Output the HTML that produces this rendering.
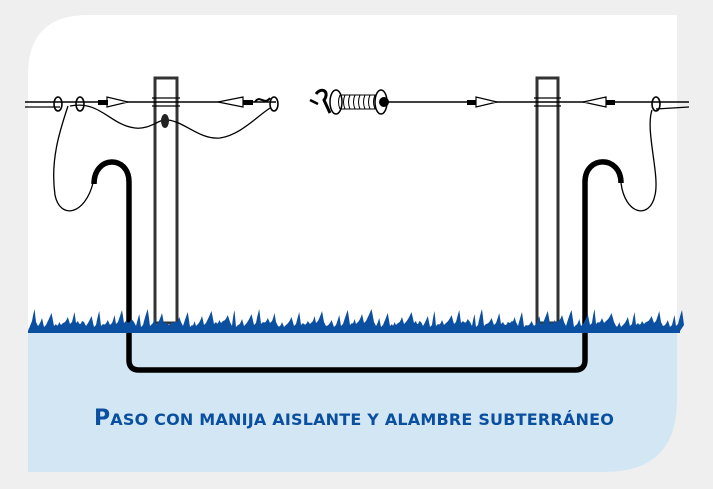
<!DOCTYPE html>
<html><head><meta charset="utf-8"><style>
html,body{margin:0;padding:0;background:#efefef;width:713px;height:489px;overflow:hidden}
svg{display:block;position:absolute;left:0;top:0}
</style></head><body>
<svg width="713" height="489" viewBox="0 0 713 489" xmlns="http://www.w3.org/2000/svg">
<defs><clipPath id="card"><path d="M88,15 H677 V400 Q677,472 605,472 H28 V75 Q28,15 88,15 Z"/></clipPath></defs>
<g clip-path="url(#card)">
<rect x="0" y="0" width="713" height="489" fill="#ffffff"/>
<rect x="0" y="328" width="713" height="200" fill="#d2e7f3"/>
</g>
<!-- posts -->
<rect x="155" y="78" width="22" height="245" fill="none" stroke="#333" stroke-width="3"/>
<rect x="537" y="78" width="21" height="245" fill="none" stroke="#333" stroke-width="3"/>
<!-- wires -->
<g stroke="#000" fill="none">
<line x1="25" y1="102" x2="276" y2="102" stroke-width="1.6"/>
<line x1="385" y1="102" x2="689" y2="102" stroke-width="1.6"/>
<line x1="25" y1="107" x2="60" y2="107" stroke-width="1.2"/>
<line x1="689" y1="107" x2="656" y2="109" stroke-width="1.2"/>
<line x1="152" y1="98" x2="180" y2="98" stroke-width="1.2"/>
<line x1="152" y1="106" x2="180" y2="106" stroke-width="1.2"/>
<line x1="534" y1="98" x2="561" y2="98" stroke-width="1.2"/>
<line x1="534" y1="106" x2="561" y2="106" stroke-width="1.2"/>
<ellipse cx="58" cy="104" rx="4" ry="7" stroke-width="1.6"/>
<ellipse cx="80" cy="104" rx="4" ry="7" stroke-width="1.6"/>
<ellipse cx="274" cy="104" rx="4" ry="7" stroke-width="1.6"/>
<ellipse cx="656" cy="104" rx="4" ry="7" stroke-width="1.6"/>
<path d="M68,106 C60,130 50,160 55,195 C60,220 85,215 93,183" stroke-width="1.3"/>
<path d="M652,110 C645,130 660,175 655,195 C650,220 625,215 621,183" stroke-width="1.3"/>
<path d="M70,106 C100,100 110,125 135,128 C150,130 160,118 168,120 C185,122 200,140 220,138 C240,135 255,118 270,108" stroke-width="1.3"/>
<path d="M107,97 L107,107 L128,102 Z M218,102 L243,97 L243,107 Z M476,97 L476,107 L497,102 Z M583,102 L606,97 L606,107 Z" stroke-width="1.2" fill="#fff"/>
<path d="M316,94 C322,86 330,92 324,100 L330,113" stroke-width="3"/>
<path d="M310,100 L318,104" stroke-width="2.5"/>
<path d="M384,102 L388,102" stroke-width="1.6"/>
</g>
<rect x="98" y="100" width="10" height="5" fill="#000"/>
<rect x="243" y="100" width="10" height="5" fill="#000"/>
<path d="M255,102 C260,94 264,106 270,98" stroke="#000" stroke-width="2" fill="none"/>
<rect x="467" y="100" width="9" height="5" fill="#000"/>
<rect x="606" y="100" width="9" height="5" fill="#000"/>
<ellipse cx="165" cy="121" rx="4" ry="7" fill="#222"/>
<!-- spring -->
<ellipse cx="336" cy="102" rx="6" ry="12" fill="#fff" stroke="#000" stroke-width="1.5"/>
<g stroke="#000" stroke-width="1" fill="none">
<path d="M340,95 q-3,7 0,14 M345,95 q-3,7 0,14 M350,95 q-3,7 0,14 M355,95 q-3,7 0,14 M360,95 q-3,7 0,14 M365,95 q-3,7 0,14 M370,95 q-3,7 0,14 M375,95 q-3,7 0,14"/>
<line x1="340" y1="95" x2="378" y2="95"/><line x1="340" y1="109" x2="378" y2="109"/>
</g>
<ellipse cx="381" cy="102" rx="6" ry="12" fill="#fff" stroke="#000" stroke-width="1.5"/>
<circle cx="384" cy="102" r="5" fill="#000"/>
<!-- cable -->
<path d="M94,184 C94,155 129,155 129,182 L129,360 Q129,370 139,370 L575,370 Q585,370 585,360 L585,182 C585,155 621,155 621,183" stroke="#000" stroke-width="5.5" fill="none"/>
<!-- grass -->
<path id="grass" fill="#0a4fa0" d=""/>
<text x="354" y="425" text-anchor="middle" font-family="'DejaVu Sans','Liberation Sans',sans-serif" font-weight="bold" font-size="16" fill="#0a4fa0" letter-spacing="0.2"><tspan font-size="22">P</tspan>ASO CON MANIJA AISLANTE Y ALAMBRE SUBTERRÁNEO</text>
</svg>
<script>
(function(){var d="M28,331 ";var x=30,i=0;
while(x<680){var s=6+((i*7)%5);var h=309+((i*37)%14);var v=321+((i*17)%6);
d+="L"+(x+2)+","+v+" Q"+(x+s*0.5)+","+(h+6)+" "+(x+s*0.75)+","+h+" L"+(x+s)+","+(v+1)+" ";x+=s;i++;}
d+="L680,331 L680,333 L28,333 Z";document.getElementById("grass").setAttribute("d",d);})();
</script>
</body></html>
